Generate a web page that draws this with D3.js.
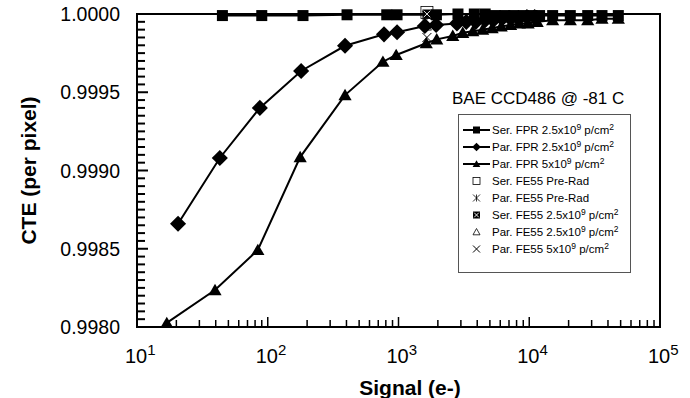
<!DOCTYPE html>
<html>
<head>
<meta charset="utf-8">
<script src="https://cdn.jsdelivr.net/npm/d3@7"></script>
<style>
  body { margin: 0; background: #fff; }
  svg { display: block; font-family: "Liberation Sans", Arial, sans-serif; }
</style>
</head>
<body>
<div class="grafico"></div>
<script>
// datos
const serFprX = [45, 90, 186, 404, 813, 975, 1950, 2850, 3800, 4600, 5500, 6500, 7600, 9000, 10500, 12000, 15100, 20600, 28000, 36000, 48000];
const serFprY = [0.99999, 0.99999, 0.99999, 0.999995, 0.999995, 0.999995, 0.999995, 1.0, 1.0, 1.0, 0.99999, 0.99999, 0.99999, 0.99999, 0.99999, 0.99999, 0.99999, 0.99999, 0.99999, 0.99999, 0.99999];

const parFprX = [20.6, 43, 87, 180, 390, 775, 975, 1590, 1940, 2800, 3300, 3900, 4600, 5300, 6200, 7200, 8300, 9600, 11000];
const parFprY = [0.99866, 0.99908, 0.9994, 0.999636, 0.999797, 0.99987, 0.999883, 0.999923, 0.99993, 0.99994, 0.99995, 0.99995, 0.99996, 0.99996, 0.99997, 0.99997, 0.99997, 0.99998, 0.99998];

const parFpr5X = [16.9, 39.5, 84, 177, 390, 760, 960, 1630, 1960, 2600, 3100, 3700, 4400, 5200, 6100, 7200, 8400, 9800, 11500, 15100, 20600, 28000, 36000, 48000];
const parFpr5Y = [0.998026, 0.998236, 0.998492, 0.999086, 0.999482, 0.999695, 0.999738, 0.999813, 0.999838, 0.99986, 0.99988, 0.99989, 0.9999, 0.99991, 0.99992, 0.99993, 0.99994, 0.99994, 0.99995, 0.99996, 0.99996, 0.99996, 0.99997, 0.99997];

// puntos FE55 (una medida cada uno)
const fe55Names = ["serPre", "parPre", "ser25", "par25", "par5"];
const fe55X = [1650, 1650, 1650, 1650, 1650];
const fe55Y = [1.00001, 0.99999, 1.0, 0.99992, 0.99985];

const yTicks = [0.998, 0.9985, 0.999, 0.9995, 1.0];
const xTicks = [1e1, 1e2, 1e3, 1e4, 1e5];

const legendRows = [
  { sym: "square", line: true, t: "Ser. FPR 2.5x10", sup: "9", t2: " p/cm", sup2: "2" },
  { sym: "diamond", line: true, t: "Par. FPR 2.5x10", sup: "9", t2: " p/cm", sup2: "2" },
  { sym: "triangle", line: true, t: "Par. FPR 5x10", sup: "9", t2: " p/cm", sup2: "2" },
  { sym: "serPre", line: false, t: "Ser. FE55 Pre-Rad" },
  { sym: "parPre", line: false, t: "Par. FE55 Pre-Rad" },
  { sym: "ser25", line: false, t: "Ser. FE55 2.5x10", sup: "9", t2: " p/cm", sup2: "2" },
  { sym: "par25", line: false, t: "Par. FE55 2.5x10", sup: "9", t2: " p/cm", sup2: "2" },
  { sym: "par5", line: false, t: "Par. FE55 5x10", sup: "9", t2: " p/cm", sup2: "2" }
];

var margin = { top: 14, right: 30, bottom: 71, left: 137 },
  width = 690, height = 398;
var w = width - margin.left - margin.right, h = height - margin.top - margin.bottom;

var svg = d3.select(".grafico").append("svg")
  .attr("width", width).attr("height", height);
var g = svg.append("g").attr("transform", "translate(" + margin.left + "," + margin.top + ")");

var x = d3.scaleLog().domain([10, 1e5]).range([0, w]),
  y = d3.scaleLinear().domain([0.998, 1.0]).range([h, 0]);

// dibujar un marcador
function marker(sel, type, cx, cy, s) {
  var m = sel.append("g").attr("transform", "translate(" + cx + "," + cy + ")");
  if (type === "square") {
    m.append("rect").attr("x", -s / 2).attr("y", -s / 2).attr("width", s).attr("height", s).attr("fill", "#000");
  } else if (type === "diamond") {
    var d = s * 0.62;
    m.append("path").attr("d", "M0," + (-d) + "L" + d + ",0L0," + d + "L" + (-d) + ",0Z").attr("fill", "#000");
  } else if (type === "triangle") {
    var r = s / 2;
    m.append("path").attr("d", "M0," + (-r * 1.05) + "L" + (r * 1.1) + "," + (r * 0.85) + "L" + (-r * 1.1) + "," + (r * 0.85) + "Z").attr("fill", "#000");
  } else if (type === "serPre") {
    m.append("rect").attr("x", -s / 2).attr("y", -s / 2).attr("width", s).attr("height", s)
      .attr("fill", "none").attr("stroke", "#000").attr("stroke-width", 0.8);
  } else if (type === "parPre") {
    var a = s / 2;
    m.append("path").attr("d", "M" + (-a) + "," + (-a) + "L" + a + "," + a + "M" + a + "," + (-a) + "L" + (-a) + "," + a + "M0," + (-a) + "L0," + a)
      .attr("stroke", "#000").attr("stroke-width", 0.8);
  } else if (type === "ser25") {
    m.append("rect").attr("x", -s / 2).attr("y", -s / 2).attr("width", s).attr("height", s).attr("fill", "#000");
    var b = s / 2 - 1.2;
    m.append("path").attr("d", "M" + (-b) + "," + (-b) + "L" + b + "," + b + "M" + b + "," + (-b) + "L" + (-b) + "," + b)
      .attr("stroke", "#fff").attr("stroke-width", 0.9);
  } else if (type === "par25") {
    var t = s / 2;
    m.append("path").attr("d", "M0," + (-t) + "L" + t + "," + (t * 0.8) + "L" + (-t) + "," + (t * 0.8) + "Z")
      .attr("fill", "none").attr("stroke", "#000").attr("stroke-width", 0.8);
  } else if (type === "par5") {
    var c = s / 2;
    m.append("path").attr("d", "M" + (-c) + "," + (-c) + "L" + c + "," + c + "M" + c + "," + (-c) + "L" + (-c) + "," + c)
      .attr("stroke", "#000").attr("stroke-width", 1);
  }
}

// ejes: ticks menores en y
var yMinor = d3.range(0, 41).map(i => 0.998 + i * 0.00005);
g.selectAll(".ymin").data(yMinor).enter().append("line")
  .attr("x1", 0).attr("x2", (d, i) => i % 10 === 0 ? 11 : 8)
  .attr("y1", d => y(d)).attr("y2", d => y(d))
  .attr("stroke", "#000").attr("stroke-width", 2);

var xMinor = [];
[10, 100, 1000, 10000].forEach(dec => { for (var k = 1; k <= 9; k++) xMinor.push(dec * k); });
xMinor.push(1e5);
g.selectAll(".xmin").data(xMinor).enter().append("line")
  .attr("x1", d => x(d)).attr("x2", d => x(d))
  .attr("y1", h).attr("y2", d => xTicks.indexOf(d) >= 0 ? h - 10 : h - 7)
  .attr("stroke", "#000").attr("stroke-width", 1.5);

// marco
g.append("rect").attr("x", 0).attr("y", 0).attr("width", w).attr("height", h)
  .attr("fill", "none").attr("stroke", "#000").attr("stroke-width", 2);

// etiquetas de ticks
g.selectAll(".ylab").data(yTicks).enter().append("text")
  .attr("x", -17).attr("y", d => y(d)).attr("dy", "0.36em")
  .attr("text-anchor", "end").attr("font-size", 19.5)
  .text(d => d3.format(".4f")(d));

var xl = g.selectAll(".xlab").data(xTicks).enter().append("text")
  .attr("x", d => x(d) - 12).attr("y", h + 36)
  .attr("font-size", 20);
xl.append("tspan").text("10");
xl.append("tspan").attr("dy", -8).attr("font-size", 15).text(d => Math.round(Math.log10(d)));

svg.append("text").attr("x", 410).attr("y", 395).attr("text-anchor", "middle")
  .attr("font-size", 21).attr("font-weight", "bold").text("Signal (e-)");
svg.append("text").attr("transform", "translate(36," + (margin.top + h / 2) + ") rotate(-90)")
  .attr("text-anchor", "middle").attr("font-size", 21).attr("font-weight", "bold").text("CTE (per pixel)");

// series
var line = d3.line().x(d => x(d[0])).y(d => y(d[1]));
var series = [
  { xs: serFprX, ys: serFprY, sym: "square", s: 11 },
  { xs: parFprX, ys: parFprY, sym: "diamond", s: 13 },
  { xs: parFpr5X, ys: parFpr5Y, sym: "triangle", s: 12 }
];
series.forEach(sr => {
  var pts = sr.xs.map((v, i) => [v, sr.ys[i]]);
  g.append("path").datum(pts).attr("d", line)
    .attr("fill", "none").attr("stroke", "#000").attr("stroke-width", 2);
  pts.forEach(p => marker(g, sr.sym, x(p[0]), y(p[1]), sr.s));
});
fe55Names.forEach((n, i) => marker(g, n, x(fe55X[i]), y(fe55Y[i]), n === "serPre" ? 12 : 9));

// leyenda
svg.append("text").attr("x", 452).attr("y", 104).attr("font-size", 17).text("BAE CCD486 @ -81 C");
svg.append("rect").attr("x", 458.5).attr("y", 114.5).attr("width", 172).attr("height", 158)
  .attr("fill", "#fff").attr("stroke", "#555").attr("stroke-width", 1);
legendRows.forEach((r, i) => {
  var cy = 130 + i * 17;
  if (r.line) {
    svg.append("line").attr("x1", 463).attr("x2", 490).attr("y1", cy).attr("y2", cy)
      .attr("stroke", "#000").attr("stroke-width", 2);
    marker(svg, r.sym, 476.5, cy, 7);
  } else {
    marker(svg, r.sym, 476.5, cy, 7);
  }
  var t = svg.append("text").attr("x", 492).attr("y", cy + 4).attr("font-size", 11.5);
  t.append("tspan").text(r.t);
  if (r.sup) {
    t.append("tspan").attr("dy", -4).attr("font-size", 8.5).text(r.sup);
    t.append("tspan").attr("dy", 4).text(r.t2);
    t.append("tspan").attr("dy", -4).attr("font-size", 8.5).text(r.sup2);
  }
});
</script>
</body>
</html>
